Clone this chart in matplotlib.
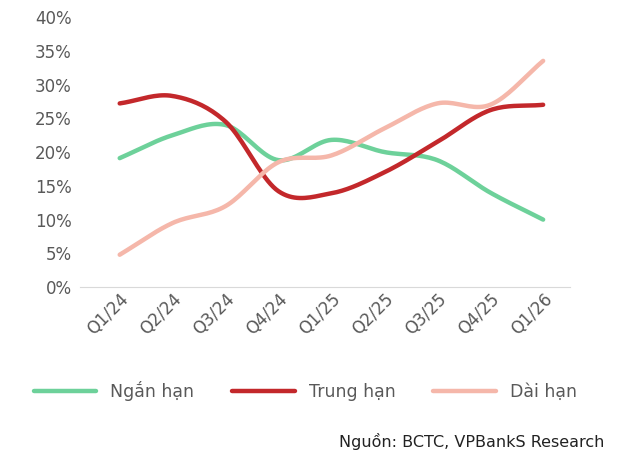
import numpy as np
import matplotlib
matplotlib.use("Agg")
import matplotlib.pyplot as plt

quarters = ["Q1/24","Q2/24","Q3/24","Q4/24","Q1/25","Q2/25","Q3/25","Q4/25","Q1/26"]
ngan_han = [19.1, 22.5, 24.0, 18.8, 21.8, 20.0, 18.8, 14.0, 10.0]
trung_han = [27.2, 28.3, 24.5, 14.2, 13.9, 17.0, 21.5, 26.2, 27.0]
dai_han = [4.8, 9.5, 12.0, 18.5, 19.5, 23.5, 27.2, 27.0, 33.5]
yticks = [0, 5, 10, 15, 20, 25, 30, 35, 40]

def smooth(x, y, n=20):
    x = np.asarray(x, float); y = np.asarray(y, float)
    px = np.concatenate([[2*x[0]-x[1]], x, [2*x[-1]-x[-2]]])
    py = np.concatenate([[2*y[0]-y[1]], y, [2*y[-1]-y[-2]]])
    xs, ys = [], []
    for i in range(1, len(px)-2):
        t = np.linspace(0, 1, n, endpoint=False)
        for arr, out in ((px, xs), (py, ys)):
            p0, p1, p2, p3 = arr[i-1], arr[i], arr[i+1], arr[i+2]
            out.extend(0.5*((2*p1) + (-p0+p2)*t + (2*p0-5*p1+4*p2-p3)*t**2 + (-p0+3*p1-3*p2+p3)*t**3))
    xs.append(x[-1]); ys.append(y[-1])
    return np.array(xs), np.array(ys)

fig = plt.figure(figsize=(6.4, 4.58), dpi=100)
ax = fig.add_axes([0.125, 0.373, 0.765, 0.59])
x = np.arange(len(quarters))
series = [(ngan_han, "#6dd19a", "Ngắn hạn"), (trung_han, "#c3282b", "Trung hạn"), (dai_han, "#f5b7aa", "Dài hạn")]
for vals, col, lab in series:
    sx, sy = smooth(x, vals)
    ax.plot(sx, sy, color=col, lw=3.2, label=lab, solid_capstyle="round")

ax.set_xlim(-0.75, 8.5)
ax.set_ylim(0, 40)
ax.set_yticks(yticks)
ax.set_yticklabels([f"{v}%" for v in yticks])
ax.set_xticks(x)
ax.set_xticklabels(quarters, rotation=45, ha="right", rotation_mode="anchor")
for s in ["top", "right", "left"]:
    ax.spines[s].set_visible(False)
ax.spines["bottom"].set_color("#d9d9d9")
ax.tick_params(axis="y", length=0, labelsize=12, colors="#595959", pad=6)
ax.tick_params(axis="x", length=0, labelsize=12, colors="#595959", pad=2)

ax.legend(loc="upper center", bbox_to_anchor=(0.46, -0.29), ncol=3, frameon=False,
          fontsize=12.5, handlelength=3.6, handletextpad=0.8, columnspacing=2.2, labelcolor="#595959")
fig.text(0.945, 0.025, "Nguồn: BCTC, VPBankS Research", ha="right", fontsize=11.5, color="#222222")
fig.savefig("out.png", dpi=100)
